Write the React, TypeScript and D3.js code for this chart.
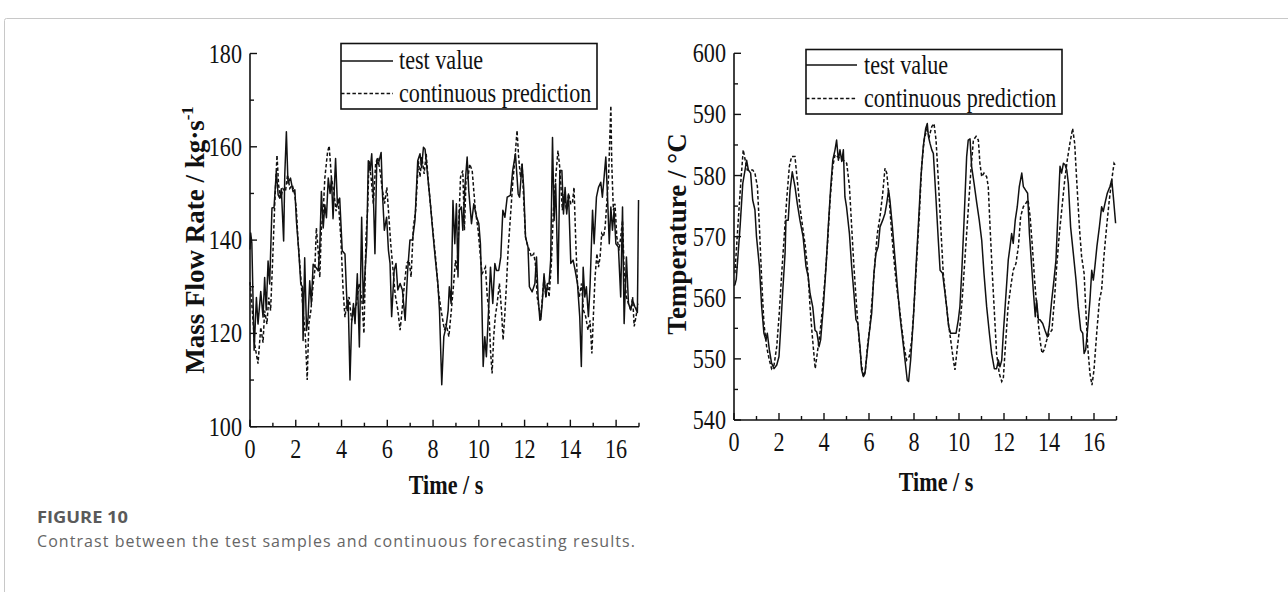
import React from "react";
import * as d3 from "d3";

type P = [number, number];

const xTicksMajor = [0, 2, 4, 6, 8, 10, 12, 14, 16];
const leftYTicks = [100, 120, 140, 160, 180];
const rightYTicks = [540, 550, 560, 570, 580, 590, 600];
const legendLabels = ["test value", "continuous prediction"];
const leftYLabel = "Mass Flow Rate / kg·s";
const rightYLabel = "Temperature / °C";
const xLabel = "Time / s";
const figTitle = "FIGURE 10";
const figCaption = "Contrast between the test samples and continuous forecasting results.";

const massTest: P[] = [
[0.0,138],[0.03,141.5],[0.08,139.4],[0.18,116.4],[0.28,127.7],[0.35,122],[0.47,129],[0.57,123.5],[0.64,132],[0.71,125],[0.79,135.5],[0.86,130.6],[0.96,146.9],[1.05,147],[1.15,154.7],[1.23,149.7],[1.3,149],[1.37,151],[1.47,139.8],[1.52,154],[1.59,163.2],[1.66,152.2],[1.77,153.3],[1.88,150.4],[1.96,150.8],[2.03,144],[2.13,137.7],[2.22,130.6],[2.29,130],[2.32,118.5],[2.39,136.2],[2.47,120.6],[2.54,123.5],[2.61,131.3],[2.68,126.4],[2.76,134.8],[2.9,134],[2.98,133.4],[3.05,138.4],[3.12,150.4],[3.2,142.6],[3.27,147.6],[3.34,144.8],[3.42,153.3],[3.5,150],[3.56,153.3],[3.63,144.6],[3.74,157.5],[3.82,147.6],[3.92,149],[4.03,137.7],[4.15,137],[4.25,124.9],[4.29,127.1],[4.37,110],[4.44,122.1],[4.52,126.4],[4.59,122.1],[4.69,132.8],[4.78,117.1],[4.88,144.9],[4.95,126.4],[5.03,133.5],[5.1,139.2],[5.17,157],[5.25,154.9],[5.32,158.5],[5.39,149.9],[5.46,137.1],[5.54,157],[5.61,156.3],[5.73,158.8],[5.79,149.9],[5.87,142.1],[5.97,144.9],[6.05,137.8],[6.12,135],[6.19,123.6],[6.3,133.5],[6.38,135],[6.46,129.3],[6.56,130.7],[6.66,129.3],[6.78,122.8],[6.89,133.5],[6.99,140],[7.1,140],[7.21,144.2],[7.33,157],[7.43,158.5],[7.5,155.6],[7.58,159.9],[7.65,159.5],[7.77,153.5],[7.87,148.5],[7.97,142.8],[8.09,136.4],[8.21,130.7],[8.28,125],[8.38,109],[8.47,119.3],[8.57,121.4],[8.66,125],[8.71,130],[8.79,126.4],[8.87,148.5],[8.95,139.2],[9.02,147.8],[9.09,132.1],[9.15,146.4],[9.24,147.1],[9.3,142.1],[9.39,151.3],[9.49,157.8],[9.56,150.6],[9.68,143.5],[9.78,147.8],[9.9,145],[10.0,143.5],[10.07,139.2],[10.11,132.1],[10.19,112.9],[10.26,119.3],[10.33,115],[10.44,126.4],[10.51,134.2],[10.61,126.4],[10.7,135],[10.77,133.5],[10.87,133.5],[10.96,136.4],[11.05,146.4],[11.14,144.9],[11.24,149.2],[11.38,149.6],[11.48,154.9],[11.6,158.5],[11.72,149.9],[11.78,149.2],[11.89,156.3],[11.96,151.3],[12.04,140.7],[12.15,138.5],[12.21,130],[12.33,128.9],[12.45,130.7],[12.52,136.4],[12.59,127.8],[12.67,122.8],[12.71,123],[12.78,127.1],[12.85,132.8],[12.93,127.8],[13.0,130.7],[13.07,130.7],[13.14,135.7],[13.22,162],[13.29,144.2],[13.36,152.1],[13.46,130.7],[13.54,154.9],[13.63,154.9],[13.7,145.6],[13.77,151.3],[13.84,145.6],[13.92,149.9],[14.02,135],[14.12,135.7],[14.21,133.5],[14.31,130.7],[14.41,123.6],[14.48,112.9],[14.56,134.2],[14.63,127.8],[14.7,130],[14.79,123.6],[14.86,130],[14.97,146.4],[15.04,139.2],[15.14,149.2],[15.23,151.3],[15.33,152.4],[15.4,149.2],[15.48,153.8],[15.55,157.8],[15.62,149.9],[15.7,139.2],[15.77,147.1],[15.84,142.1],[15.91,146.4],[15.99,139.2],[16.1,138.5],[16.2,127.8],[16.28,147.1],[16.35,122.1],[16.45,136.4],[16.54,126.4],[16.64,125],[16.72,127.1],[16.82,125.7],[16.93,124.5],[16.98,148.6]
];

const massPred: P[] = [
[0.0,131],[0.1,125],[0.2,117.8],[0.35,113.5],[0.47,121.3],[0.57,118],[0.64,124.9],[0.74,122],[0.82,127.7],[0.9,124.9],[1.0,137],[1.08,147.6],[1.18,158.2],[1.25,151.8],[1.34,149],[1.44,151],[1.55,150.4],[1.64,154],[1.74,151.1],[1.85,151.8],[1.96,149.7],[2.03,146.2],[2.1,139.8],[2.22,132],[2.32,124.9],[2.42,119.3],[2.5,110],[2.57,122],[2.66,124.9],[2.76,130.6],[2.83,133.4],[2.9,142.6],[2.98,137.7],[3.05,132],[3.12,142.6],[3.2,146.2],[3.27,153.3],[3.39,158.9],[3.46,160.2],[3.56,153.3],[3.66,150.4],[3.76,146.2],[3.85,149],[3.97,140.5],[4.07,129.1],[4.15,123.5],[4.23,126.4],[4.33,127.8],[4.44,122.8],[4.55,124.9],[4.66,126.4],[4.76,130.7],[4.88,127.8],[4.98,120],[5.07,140.7],[5.14,146.4],[5.2,157],[5.29,153.5],[5.39,147.8],[5.49,156.3],[5.58,157.8],[5.68,154.9],[5.79,150.6],[5.88,147.8],[5.98,151.3],[6.05,146.4],[6.15,139.2],[6.24,134.2],[6.34,128.5],[6.46,125],[6.56,120.7],[6.66,125.7],[6.75,130.7],[6.85,135],[6.95,135.7],[7.04,132.1],[7.14,142.8],[7.24,146.4],[7.36,157],[7.43,153.5],[7.51,157.8],[7.61,154.2],[7.7,158.5],[7.8,152.1],[7.91,146.4],[8.02,140.7],[8.12,135.7],[8.23,129.2],[8.35,125],[8.45,122.1],[8.5,120.7],[8.57,122.1],[8.69,119.3],[8.8,125],[8.9,130.7],[8.98,135.7],[9.05,133.5],[9.12,142.8],[9.2,153.5],[9.3,154.9],[9.37,142.1],[9.44,152.8],[9.53,153.5],[9.6,156.3],[9.71,154.9],[9.78,150.6],[9.85,146.4],[9.97,142.1],[10.07,136.4],[10.14,132.8],[10.22,133.5],[10.29,134.2],[10.37,127.8],[10.44,125],[10.51,116.4],[10.58,111.4],[10.65,119.3],[10.72,123.6],[10.8,126.4],[10.9,130.7],[10.99,125],[11.06,118.6],[11.13,123.6],[11.21,130.7],[11.28,137.8],[11.38,144.9],[11.48,152.1],[11.57,157],[11.67,163.5],[11.74,157.8],[11.82,153.5],[11.89,156.3],[11.97,147.8],[12.04,140.7],[12.11,139.2],[12.21,137.8],[12.3,136.4],[12.4,137.1],[12.47,135],[12.55,127.8],[12.65,125],[12.71,123.6],[12.78,127.8],[12.85,132.1],[12.93,127.8],[13.0,130.7],[13.07,127.8],[13.17,135],[13.26,146.4],[13.36,153.5],[13.46,159.2],[13.55,154.9],[13.65,146.4],[13.73,149.9],[13.83,146.4],[13.92,149.9],[14.02,147.8],[14.09,147.8],[14.16,151.3],[14.24,139.2],[14.31,130.7],[14.39,127.8],[14.49,130.7],[14.57,125],[14.67,123.6],[14.77,120.7],[14.86,122.8],[14.94,115.7],[15.01,124.2],[15.08,132.1],[15.16,137.1],[15.23,134.2],[15.3,136.4],[15.37,141.4],[15.45,140.7],[15.52,142.8],[15.59,147.8],[15.67,153.5],[15.77,168.8],[15.81,156.3],[15.88,146.4],[15.95,147.8],[16.03,140.7],[16.13,137.8],[16.2,140.7],[16.28,144.2],[16.35,133.5],[16.45,127.8],[16.54,126.4],[16.64,125],[16.72,127.8],[16.79,121.5],[16.87,123.6],[16.95,126.4]
];

const tempTest: P[] = [
[0.0,562],[0.04,562.1],[0.1,563],[0.27,571.6],[0.39,578.7],[0.49,580.9],[0.56,582.5],[0.64,580.9],[0.74,580.4],[0.83,576],[0.93,574.4],[1.0,570],[1.13,565.1],[1.23,558.5],[1.33,554.2],[1.42,553.1],[1.48,554.2],[1.57,551.5],[1.67,549.3],[1.78,548.4],[1.9,549],[2.0,550.4],[2.07,554.7],[2.16,560.7],[2.27,567.3],[2.31,572.7],[2.41,572.7],[2.49,577.6],[2.59,580.6],[2.71,578.2],[2.81,575.5],[2.93,572.7],[3.07,570],[3.2,565.1],[3.3,563.4],[3.38,560.7],[3.5,558.5],[3.6,554.7],[3.68,554.4],[3.78,552],[3.85,553.1],[3.97,558.5],[4.09,565.1],[4.19,571.6],[4.3,578.2],[4.39,582.5],[4.49,584.2],[4.56,585.8],[4.64,582.5],[4.71,584.2],[4.79,582.3],[4.86,584.2],[4.93,576.5],[5.0,574.9],[5.13,570.5],[5.23,565.1],[5.33,560.7],[5.42,556.4],[5.5,555.8],[5.6,552],[5.67,548.2],[5.75,547.1],[5.82,547.6],[5.9,550.4],[6.01,554.2],[6.12,557.5],[6.22,564],[6.31,567.3],[6.41,568.4],[6.49,571.6],[6.61,572.7],[6.71,573.8],[6.79,575.5],[6.87,577.6],[6.93,576],[7.04,571.6],[7.16,566.2],[7.26,561.8],[7.38,556.9],[7.5,553.1],[7.6,549.8],[7.7,546.5],[7.76,546.3],[7.85,549.8],[7.97,556.4],[8.09,565.1],[8.19,571.6],[8.3,579.3],[8.41,584.7],[8.52,587.7],[8.59,588.5],[8.64,586.4],[8.71,585.3],[8.79,584.2],[8.86,583.6],[8.98,576],[9.08,569.4],[9.16,564.5],[9.27,564],[9.38,560.7],[9.45,558.5],[9.54,555.3],[9.63,554.2],[9.75,554.2],[9.87,554.2],[9.97,556.4],[10.04,558.5],[10.12,564],[10.22,572.2],[10.34,583.1],[10.41,585.8],[10.49,586],[10.56,581.5],[10.67,578.7],[10.79,575.5],[10.9,572.7],[11.01,569.4],[11.11,564],[11.23,558.5],[11.35,554.2],[11.45,550.9],[11.57,548.4],[11.67,548.4],[11.75,549.8],[11.82,548.7],[11.9,549.8],[11.97,554.2],[12.09,560.7],[12.19,566.2],[12.27,568.4],[12.34,570.5],[12.41,568.9],[12.5,572.7],[12.59,574.9],[12.68,578.2],[12.79,580.4],[12.86,578.2],[12.96,577.6],[13.05,577.1],[13.13,570.5],[13.23,565.1],[13.3,561.3],[13.39,556.9],[13.45,559.6],[13.53,556.4],[13.6,556.4],[13.72,555.8],[13.82,554.7],[13.93,553.6],[14.01,555.3],[14.12,559.6],[14.22,562.9],[14.31,566.2],[14.41,574.9],[14.49,581.5],[14.56,580.4],[14.64,582],[14.71,581.8],[14.79,580.9],[14.86,578.7],[14.96,571.6],[15.08,567.3],[15.2,562.9],[15.3,558.5],[15.41,554.7],[15.5,554.2],[15.56,550.9],[15.63,551.5],[15.7,554.2],[15.82,559.6],[15.9,564.5],[15.97,562.9],[16.04,565.1],[16.13,568.4],[16.24,571.6],[16.34,574.9],[16.41,574.1],[16.49,575.5],[16.59,577.1],[16.71,578.2],[16.79,579.3],[16.86,576.5],[16.96,572.2]
];

const tempPred: P[] = [
[0.04,564],[0.19,572.7],[0.31,579.3],[0.41,584.2],[0.5,582.5],[0.59,580.9],[0.7,580.9],[0.83,580.9],[0.93,580.4],[1.04,578.2],[1.13,571.6],[1.23,562.9],[1.33,555.8],[1.45,552],[1.57,549.8],[1.67,548.4],[1.78,549],[1.9,552],[2.01,557.4],[2.12,564],[2.22,569.4],[2.34,576],[2.46,581.5],[2.56,583.1],[2.71,583.1],[2.81,579.3],[2.93,574.9],[3.05,571.6],[3.17,568.4],[3.29,564],[3.38,558.5],[3.47,554.2],[3.56,550.4],[3.61,548.4],[3.7,550.9],[3.82,554.2],[3.94,558.5],[4.04,562.9],[4.15,568.4],[4.27,576],[4.39,581.5],[4.49,583.4],[4.6,583.1],[4.71,582.8],[4.86,582.5],[5.01,582],[5.13,578.2],[5.23,571.6],[5.33,565.1],[5.45,558.5],[5.56,553.1],[5.66,549.3],[5.75,547.1],[5.84,548.2],[5.93,552],[6.04,555.3],[6.16,560.7],[6.27,566.2],[6.37,570.5],[6.49,573.3],[6.61,577.1],[6.71,581.2],[6.79,580.4],[6.9,576],[7.01,570.5],[7.11,566.2],[7.23,561.8],[7.35,558.5],[7.45,555.3],[7.56,552],[7.67,549.8],[7.79,550.4],[7.9,553.1],[8.0,558.5],[8.12,566.2],[8.24,573.8],[8.34,581.5],[8.45,585.8],[8.56,587.5],[8.68,586.4],[8.79,588],[8.89,588.5],[8.98,585.8],[9.08,579.3],[9.19,571.6],[9.3,564],[9.42,559.6],[9.53,555.8],[9.63,553.1],[9.75,549.8],[9.82,548.2],[9.93,552],[10.04,555.3],[10.16,560.7],[10.28,567.3],[10.4,573.8],[10.52,580.4],[10.64,585.8],[10.76,586.4],[10.86,585.8],[10.93,582],[11.01,579.8],[11.11,580.4],[11.23,579.8],[11.3,578.2],[11.38,571.6],[11.48,564],[11.59,556.4],[11.67,550.9],[11.79,547.6],[11.9,546.3],[11.97,546.8],[12.06,552],[12.18,558.5],[12.3,561.8],[12.41,564.5],[12.53,565.6],[12.64,568.4],[12.74,573.3],[12.86,574.9],[12.98,575.5],[13.07,576],[13.16,573.3],[13.26,568.4],[13.36,562.9],[13.48,557.5],[13.6,553.1],[13.69,550.9],[13.79,551.5],[13.9,553.1],[14.01,554.2],[14.13,554.7],[14.24,559.6],[14.34,565.1],[14.46,570.5],[14.58,574.9],[14.7,579.3],[14.81,582.5],[14.93,585.3],[15.05,587.7],[15.14,585.3],[15.23,579.3],[15.35,571.6],[15.45,566.7],[15.56,564],[15.63,558.5],[15.72,552],[15.82,547.6],[15.91,545.7],[16.0,548.2],[16.12,554.2],[16.24,559.6],[16.34,561.3],[16.44,566.7],[16.56,571.6],[16.68,576],[16.79,579.3],[16.89,582],[16.98,581.5]
];

const FONT = "'Liberation Serif', 'Times New Roman', serif";
const SX = 0.82;
const INK = "#111";

type PanelCfg = {
  x0: number; x1: number; yTop: number; yBot: number;
  yDomain: [number, number]; yMinorStep: number; yLabelTicks: number[];
  test: P[]; pred: P[];
  legend: { bx: number; by: number; bw: number; bh: number; lineLen: number; tx: number; y1: number; y2: number; b1: number; b2: number };
  yLabel: string; yLabelX: number; yLabelY: number; sup: boolean;
  xLabelX: number; xLabelY: number; fs: number;
};

function CText(props: { x: number; y: number; anchor?: string; fs: number; bold?: boolean; children: React.ReactNode }) {
  const { x, y, anchor = "start", fs, bold } = props;
  return (
    <text
      transform={`translate(${x},${y}) scale(${SX},1)`}
      textAnchor={anchor}
      fontFamily={FONT}
      fontSize={fs}
      fontWeight={bold ? "bold" : "normal"}
      fill={INK}
    >
      {props.children}
    </text>
  );
}

function Panel({ c }: { c: PanelCfg }) {
  const x = d3.scaleLinear().domain([0, 17]).range([c.x0, c.x1]);
  const y = d3.scaleLinear().domain(c.yDomain).range([c.yBot, c.yTop]);
  const line = d3.line<P>().x((d) => x(d[0])).y((d) => y(d[1]));
  const xMinor = d3.range(0, 18, 1);
  const yMinor = d3.range(c.yDomain[0], c.yDomain[1] + 0.001, c.yMinorStep);
  const L = c.legend;
  return (
    <g>
      <path d={line(c.pred) || ""} fill="none" stroke={INK} strokeWidth={1.5} strokeDasharray="3.5,2.2" />
      <path d={line(c.test) || ""} fill="none" stroke={INK} strokeWidth={1.5} strokeLinejoin="round" />
      <line x1={c.x0} x2={c.x0} y1={c.yTop} y2={c.yBot} stroke={INK} strokeWidth={1.6} />
      <line x1={c.x0} x2={c.x1} y1={c.yBot} y2={c.yBot} stroke={INK} strokeWidth={1.6} />
      {xMinor.map((t) => {
        const major = xTicksMajor.includes(t);
        return (
          <line key={"xt" + t} x1={x(t)} x2={x(t)} y1={c.yBot} y2={c.yBot - (major ? 7 : 4)} stroke={INK} strokeWidth={1.4} />
        );
      })}
      {yMinor.map((v) => {
        const major = c.yLabelTicks.includes(Math.round(v));
        return (
          <line key={"yt" + v} x1={c.x0} x2={c.x0 + (major ? 7 : 4)} y1={y(v)} y2={y(v)} stroke={INK} strokeWidth={1.4} />
        );
      })}
      {xTicksMajor.map((t) => (
        <CText key={"xl" + t} x={x(t)} y={c.yBot + 31} anchor="middle" fs={c.fs}>{t}</CText>
      ))}
      {c.yLabelTicks.map((v) => (
        <CText key={"yl" + v} x={c.x0 - 8} y={y(v) + 9} anchor="end" fs={c.fs}>{v}</CText>
      ))}
      <rect x={L.bx} y={L.by} width={L.bw} height={L.bh} fill="white" stroke={INK} strokeWidth={1.6} />
      <line x1={L.bx} x2={L.bx + L.lineLen} y1={L.y1} y2={L.y1} stroke={INK} strokeWidth={1.6} />
      <line x1={L.bx} x2={L.bx + L.lineLen} y1={L.y2} y2={L.y2} stroke={INK} strokeWidth={1.6} strokeDasharray="3.5,2.2" />
      <CText x={L.tx} y={L.b1} fs={c.fs}>{legendLabels[0]}</CText>
      <CText x={L.tx} y={L.b2} fs={c.fs}>{legendLabels[1]}</CText>
      <text
        transform={`translate(${c.yLabelX},${c.yLabelY}) rotate(-90)`}
        textAnchor="middle"
        fontFamily={FONT}
        fontSize={27}
        fontWeight="bold"
        fill={INK}
      >
        {c.yLabel}
        {c.sup ? <tspan fontSize={17} dy={-11}>-1</tspan> : null}
      </text>
      <CText x={c.xLabelX} y={c.xLabelY} anchor="middle" fs={27} bold>{xLabel}</CText>
    </g>
  );
}

const leftCfg: PanelCfg = {
  x0: 250, x1: 639, yTop: 53.5, yBot: 426.7,
  yDomain: [100, 180], yMinorStep: 10, yLabelTicks: leftYTicks,
  test: massTest, pred: massPred,
  legend: { bx: 341, by: 43.5, bw: 256, bh: 65.5, lineLen: 52, tx: 399, y1: 61, y2: 93.5, b1: 68.5, b2: 101.5 },
  yLabel: leftYLabel, yLabelX: 204, yLabelY: 240, sup: true,
  xLabelX: 446, xLabelY: 494, fs: 27,
};

const rightCfg: PanelCfg = {
  x0: 734, x1: 1116.5, yTop: 53.3, yBot: 420,
  yDomain: [540, 600], yMinorStep: 5, yLabelTicks: rightYTicks,
  test: tempTest, pred: tempPred,
  legend: { bx: 806, by: 49.5, bw: 256, bh: 64.5, lineLen: 51, tx: 864, y1: 65, y2: 98.5, b1: 73.5, b2: 106.5 },
  yLabel: rightYLabel, yLabelX: 686, yLabelY: 234, sup: false,
  xLabelX: 936, xLabelY: 491, fs: 27,
};

export default function App() {
  return (
    <svg
      width={1288}
      height={592}
      style={{ position: "absolute", left: 0, top: 0, background: "white" }}
    >
      <rect x={0} y={0} width={1288} height={592} fill="white" />
      <rect x={4.5} y={18.5} width={1300} height={620} fill="none" stroke="#c8c8c8" strokeWidth={1} rx={2} />
      <Panel c={leftCfg} />
      <Panel c={rightCfg} />
      <text x={37} y={523} fontFamily="'Open Sans', 'Noto Sans', sans-serif" fontSize={16} fontWeight="bold" fill="#5a5a5a" textLength={91} lengthAdjust="spacingAndGlyphs">
        {figTitle}
      </text>
      <text x={37} y={547} fontFamily="'Open Sans', 'Noto Sans', sans-serif" fontSize={16} fill="#666" textLength={598} lengthAdjust="spacing">
        {figCaption}
      </text>
    </svg>
  );
}
